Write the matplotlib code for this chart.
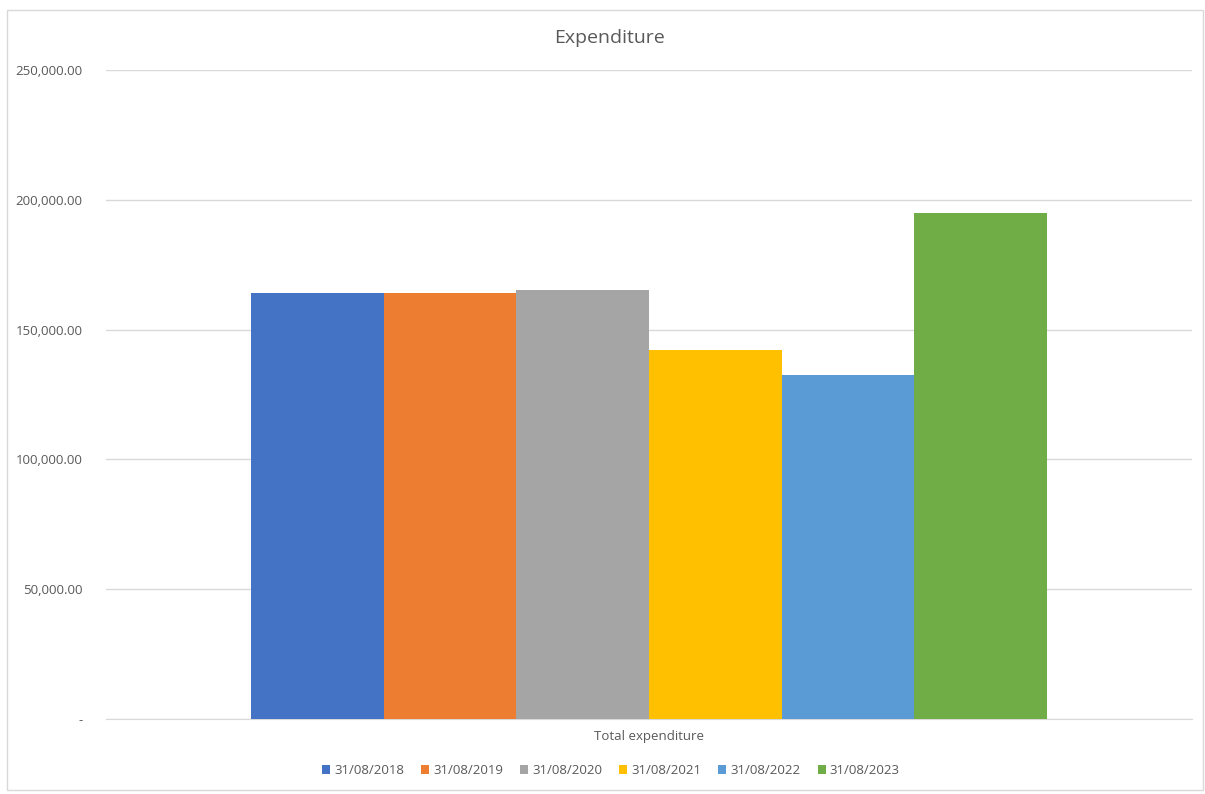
import numpy as np
import matplotlib.pyplot as plt
from matplotlib.patches import Rectangle
from matplotlib.ticker import FuncFormatter

# data
category = ["Total expenditure"]
series = ["31/08/2018", "31/08/2019", "31/08/2020", "31/08/2021", "31/08/2022", "31/08/2023"]
values = [164000, 164000, 165100, 142000, 132700, 194900]
colors = ["#4472C4", "#ED7D31", "#A5A5A5", "#FFC000", "#5B9BD5", "#70AD47"]

plt.rcParams["font.family"] = ["Open Sans", "DejaVu Sans"]
text_color = "#595959"
grid_color = "#D9D9D9"

fig = plt.figure(figsize=(12.05, 7.94), dpi=100)
ax = fig.add_axes([106 / 1205, 75 / 794, 1086 / 1205, 649 / 794])

group_width = 0.733
bar_w = group_width / len(series)
x0 = np.arange(len(category))
for i, (name, val, col) in enumerate(zip(series, values, colors)):
    offset = -group_width / 2 + bar_w * (i + 0.5)
    ax.bar(x0 + offset, [val], width=bar_w, color=col, label=name, zorder=3)

ax.set_xlim(-0.5, 0.5)
ax.set_ylim(0, 250000)
ax.set_yticks(np.arange(0, 250001, 50000))
ax.yaxis.set_major_formatter(FuncFormatter(lambda v, p: "-" if v == 0 else f"{v:,.2f}"))
ax.set_xticks([])
ax.grid(axis="y", color=grid_color, linewidth=1, zorder=0)
for s in ["top", "right", "left"]:
    ax.spines[s].set_visible(False)
ax.spines["bottom"].set_color(grid_color)
ax.tick_params(axis="y", length=0, pad=17, labelsize=9.5, labelcolor=text_color)

ax.set_xlabel(category[0], fontsize=9.5, color=text_color, labelpad=8)
fig.text(609 / 1205, 0.952, "Expenditure", ha="center", va="center", fontsize=14, color=text_color)

ax.legend(loc="center", bbox_to_anchor=(0.465, -0.0795), ncol=6, frameon=False,
          fontsize=9.5, labelcolor=text_color, handlelength=0.6, handleheight=0.6,
          handletextpad=0.3, columnspacing=1.3)

fig.patches.append(Rectangle((7 / 1205, 4 / 794), 1196 / 1205, 780 / 794,
                             transform=fig.transFigure, fill=False,
                             edgecolor=grid_color, linewidth=1))

fig.savefig("out.png", dpi=100)
